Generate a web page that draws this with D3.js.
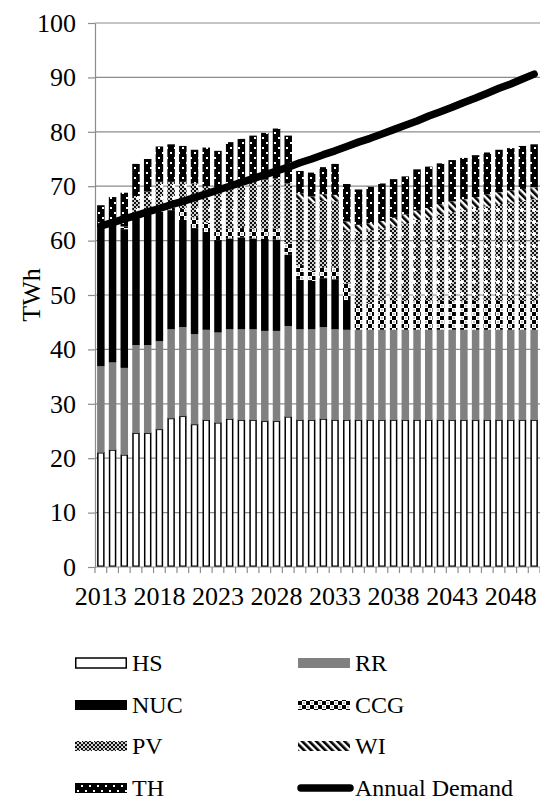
<!DOCTYPE html>
<html>
<head>
<meta charset="utf-8">
<script src="https://cdn.jsdelivr.net/npm/d3@7"></script>
<style>
  html, body { margin: 0; padding: 0; background: #fff; }
  svg { display: block; }
  text { font-family: "Liberation Serif", "Times New Roman", serif; fill: #000; }
</style>
</head>
<body>
<svg id="chart" width="540" height="800"></svg>
<script>
// Generation mix per year (TWh), stacked bottom to top
const years = [2013,2014,2015,2016,2017,2018,2019,2020,2021,2022,2023,2024,2025,2026,2027,2028,2029,2030,2031,2032,
               2033,2034,2035,2036,2037,2038,2039,2040,2041,2042,2043,2044,2045,2046,2047,2048,2049,2050];
const tickYears = [2013, 2018, 2023, 2028, 2033, 2038, 2043, 2048];
const yTicks = [0, 10, 20, 30, 40, 50, 60, 70, 80, 90, 100];

const HS  = [21.0,21.5,20.6,24.6,24.6,25.3,27.3,27.7,26.2,27.0,26.5,27.2,27.0,27.0,26.8,26.8,27.6,27.0,27.0,27.2,
             27.0,27.0,27.0,27.0,27.0,27.0,27.0,27.0,27.0,27.0,27.0,27.0,27.0,27.0,27.0,27.0,27.0,27.0];
const RR  = [15.9,16.1,16.0,16.2,16.2,16.2,16.4,16.4,16.6,16.6,16.6,16.5,16.7,16.7,16.6,16.6,16.7,16.7,16.7,16.9,
             16.7,16.6,16.6,16.6,16.6,16.6,16.6,16.6,16.6,16.6,16.6,16.6,16.6,16.6,16.6,16.6,16.6,16.6];
const NUC = [25.4,25.4,25.5,23.7,24.0,23.8,21.9,19.7,19.5,18.0,17.0,16.7,16.9,16.7,16.9,16.8,13.1,9.1,8.9,9.0,
             9.2,5.5,0,0,0,0,0,0,0,0,0,0,0,0,0,0,0,0];
const CCG = [0,0,0.5,0.5,0.5,0.5,0.5,2.0,2.0,1.7,1.9,1.8,1.7,1.8,1.9,2.0,2.1,2.7,1.9,1.9,
             2.1,3.0,4.4,4.9,5.3,5.3,5.3,5.3,5.3,5.3,5.3,5.3,5.3,5.3,5.3,5.3,5.3,5.3];
const PV  = [0,0,0,3.2,3.7,5.0,4.7,5.0,6.2,6.7,7.8,8.1,8.5,8.8,9.0,9.2,11.0,12.0,12.4,12.3,
             12.2,9.8,13.6,13.4,13.3,13.7,14.3,14.9,15.3,15.9,16.3,16.7,17.1,17.4,17.8,18.1,18.4,18.7];
const WI  = [0,0,0,0,0,0,0,0,0,0,0,0,0,0,0,0,0,1.2,1.2,1.2,
             1.2,1.6,1.3,1.3,1.4,1.6,1.6,1.7,1.8,1.9,2.0,2.0,2.0,2.2,2.2,2.2,2.2,2.2];
const TH  = [4.2,5.0,6.2,5.9,6.0,6.5,6.9,6.6,6.2,7.1,6.7,7.8,7.9,8.3,8.6,9.2,8.8,4.1,4.4,5.0,
             5.7,6.9,6.5,6.7,6.9,7.1,7.0,7.6,7.6,7.5,7.6,7.6,7.7,7.7,7.8,7.8,7.9,7.9];

const demand = [62.7,63.3,64.0,64.6,65.3,65.9,66.6,67.2,67.9,68.6,69.3,70.0,70.7,71.4,72.1,72.8,73.5,74.3,75.0,75.8,
                76.5,77.3,78.1,78.8,79.6,80.4,81.2,82.0,82.9,83.7,84.5,85.4,86.2,87.1,88.0,88.8,89.7,90.6];

const seriesKeys = ["HS", "RR", "NUC", "CCG", "PV", "WI", "TH"];
const seriesValues = { HS, RR, NUC, CCG, PV, WI, TH };
const legendRows = [["HS", "RR"], ["NUC", "CCG"], ["PV", "WI"], ["TH", "Annual Demand"]];

const fills = {
  HS: "#ffffff", RR: "#808080", NUC: "#000000",
  CCG: "url(#pat-ccg)", PV: "url(#pat-pv)", WI: "url(#pat-wi)", TH: "url(#pat-th)"
};

const svg = d3.select("#chart");
const gridColor = "#8c8c8c";
const axisFont = 26;
const legendFont = 24;
const serif = '"Liberation Serif","Times New Roman",serif';

// ---- fill patterns ----
const defs = svg.append("defs");

// coarse checker for CCG
const ccg = defs.append("pattern").attr("id", "pat-ccg")
  .attr("patternUnits", "userSpaceOnUse").attr("width", 8).attr("height", 8);
ccg.append("rect").attr("width", 8).attr("height", 8).attr("fill", "#000");
ccg.append("rect").attr("x", 0).attr("y", 0).attr("width", 4).attr("height", 4).attr("fill", "#fff");
ccg.append("rect").attr("x", 4).attr("y", 4).attr("width", 4).attr("height", 4).attr("fill", "#fff");
ccg.append("rect").attr("x", 1.5).attr("y", 1.5).attr("width", 1).attr("height", 1).attr("fill", "#000");
ccg.append("rect").attr("x", 5.5).attr("y", 5.5).attr("width", 1).attr("height", 1).attr("fill", "#000");

// fine grey checker with small white crosses for PV
const pv = defs.append("pattern").attr("id", "pat-pv")
  .attr("patternUnits", "userSpaceOnUse").attr("width", 12).attr("height", 12);
pv.append("rect").attr("width", 12).attr("height", 12).attr("fill", "#cfcfcf");
for (let i = 0; i < 6; i++) {
  for (let j = 0; j < 6; j++) {
    if ((i + j) % 2 === 0) {
      pv.append("rect").attr("x", i * 2).attr("y", j * 2).attr("width", 2).attr("height", 2).attr("fill", "#111");
    }
  }
}
pv.append("rect").attr("x", 5).attr("y", 4).attr("width", 2).attr("height", 4).attr("fill", "#fff");
pv.append("rect").attr("x", 4).attr("y", 5).attr("width", 4).attr("height", 2).attr("fill", "#fff");

// diagonal "\" stripes for WI
const wi = defs.append("pattern").attr("id", "pat-wi")
  .attr("patternUnits", "userSpaceOnUse").attr("width", 5).attr("height", 5)
  .attr("patternTransform", "rotate(-45)");
wi.append("rect").attr("width", 5).attr("height", 5).attr("fill", "#fff");
wi.append("rect").attr("width", 2.6).attr("height", 5).attr("fill", "#000");

// black with white dots for TH
const th = defs.append("pattern").attr("id", "pat-th")
  .attr("patternUnits", "userSpaceOnUse").attr("width", 8).attr("height", 10);
th.append("rect").attr("width", 8).attr("height", 10).attr("fill", "#000");
th.append("rect").attr("x", 2).attr("y", 2).attr("width", 2).attr("height", 2).attr("fill", "#fff");
th.append("rect").attr("x", 6).attr("y", 7).attr("width", 2).attr("height", 2).attr("fill", "#fff");

// ---- scales ----
const x = d3.scaleBand().domain(years).range([95, 540]).paddingInner(0.36).paddingOuter(0.18);
const y = d3.scaleLinear().domain([0, 100]).range([567, 23]);

// ---- gridlines ----
svg.append("g").selectAll("line").data(yTicks.filter(t => t > 0)).join("line")
  .attr("x1", 95).attr("x2", 540)
  .attr("y1", d => y(d)).attr("y2", d => y(d))
  .attr("stroke", gridColor).attr("stroke-width", 1.2);

// ---- stacked bars ----
const rows = years.map((yr, i) => {
  const r = { year: yr };
  seriesKeys.forEach(k => { r[k] = seriesValues[k][i]; });
  return r;
});
const stacked = d3.stack().keys(seriesKeys)(rows);

const barG = svg.append("g");
stacked.forEach(layer => {
  const key = layer.key;
  const outlined = key === "HS";
  barG.append("g").selectAll("rect")
    .data(layer.filter(d => d[1] - d[0] > 0))
    .join("rect")
    .attr("x", d => x(d.data.year) + (outlined ? 0.75 : 0))
    .attr("width", x.bandwidth() - (outlined ? 1.5 : 0))
    .attr("y", d => y(d[1]))
    .attr("height", d => y(d[0]) - y(d[1]) - (outlined ? 0.75 : 0))
    .attr("fill", fills[key])
    .attr("stroke", outlined ? "#000" : "none")
    .attr("stroke-width", outlined ? 1.5 : 0);
});

// ---- x axis ----
const xAxisG = svg.append("g");
xAxisG.append("line").attr("x1", 95).attr("x2", 540).attr("y1", y(0)).attr("y2", y(0))
  .attr("stroke", gridColor).attr("stroke-width", 1.2);
xAxisG.selectAll("line.tick").data(d3.range(years.length + 1)).join("line")
  .attr("class", "tick")
  .attr("x1", i => 95 + x.step() * i).attr("x2", i => 95 + x.step() * i)
  .attr("y1", y(0)).attr("y2", y(0) + 6)
  .attr("stroke", gridColor).attr("stroke-width", 1.2);

const xLabels = svg.append("g").attr("transform", `translate(0,${y(0)})`)
  .call(d3.axisBottom(x).tickValues(tickYears).tickSize(0).tickPadding(20));
xLabels.select(".domain").remove();
xLabels.selectAll("text").attr("font-size", axisFont)
  .style("font-family", serif).attr("fill", "#000");

// ---- y axis ----
const yAxisG = svg.append("g").attr("transform", "translate(95,0)")
  .call(d3.axisLeft(y).tickValues(yTicks).tickSizeInner(7).tickSizeOuter(0).tickPadding(12));
yAxisG.select(".domain").attr("stroke", gridColor).attr("stroke-width", 1.2);
yAxisG.selectAll(".tick line").attr("stroke", gridColor).attr("stroke-width", 1.2);
yAxisG.selectAll("text").attr("font-size", axisFont)
  .style("font-family", serif).attr("fill", "#000");

svg.append("text")
  .attr("transform", `translate(40,${(y(0) + y(100)) / 2}) rotate(-90)`)
  .attr("text-anchor", "middle")
  .attr("font-size", axisFont)
  .text("TWh");

// ---- demand line ----
const demandPts = years.map((yr, i) => ({ year: yr, v: demand[i] }));
svg.append("path").datum(demandPts)
  .attr("d", d3.line().x(d => x(d.year) + x.bandwidth() / 2).y(d => y(d.v)))
  .attr("fill", "none").attr("stroke", "#000").attr("stroke-width", 7.5)
  .attr("stroke-linecap", "round").attr("stroke-linejoin", "round");

// ---- legend ----
const rowY = [663, 705, 746, 788];
const colX = [75, 298];
const legend = svg.append("g");
legendRows.forEach((row, ri) => {
  row.forEach((name, ci) => {
    const g = legend.append("g").attr("transform", `translate(${colX[ci]},${rowY[ri]})`);
    if (name === "Annual Demand") {
      g.append("line").attr("x1", 3).attr("x2", 52).attr("y1", 0).attr("y2", 0)
        .attr("stroke", "#000").attr("stroke-width", 7.5).attr("stroke-linecap", "round");
    } else {
      g.append("rect").attr("x", name === "HS" ? 0.75 : 0).attr("y", -5)
        .attr("width", name === "HS" ? 50.5 : 52).attr("height", 10)
        .attr("fill", fills[name])
        .attr("stroke", name === "HS" ? "#000" : "none").attr("stroke-width", 1.5);
    }
    g.append("text").attr("x", 57).attr("y", 8).attr("font-size", legendFont).text(name);
  });
});
</script>
</body>
</html>
